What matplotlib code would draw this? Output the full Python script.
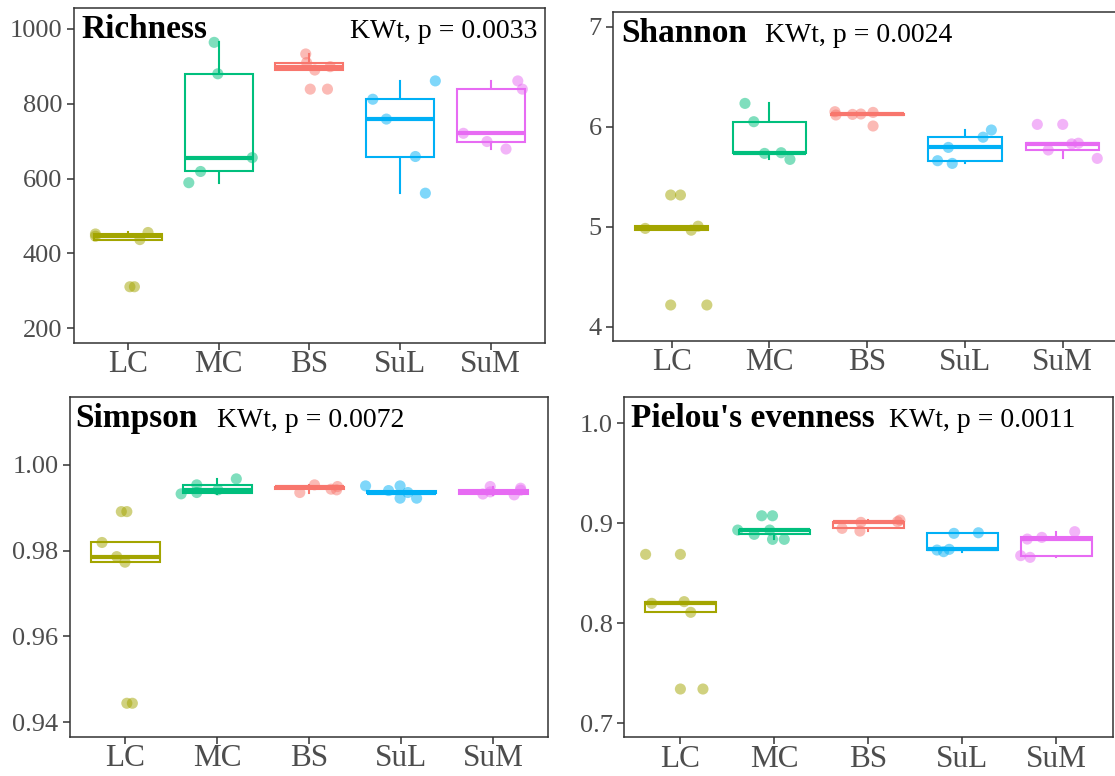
import matplotlib
matplotlib.use("Agg")
import matplotlib.pyplot as plt
import numpy as np

plt.rcParams['font.family'] = ['Liberation Serif', 'DejaVu Serif']

groups = ["LC", "MC", "BS", "SuL", "SuM"]
colours = ["#A3A500", "#00BF7D", "#F8766D", "#00B0F6", "#E76BF3"]

# values per group (LC, MC, BS, SuL, SuM); repeated values sit on top of each other
richness = [
    [311, 311, 437, 437, 446, 446, 452, 452, 456],
    [589, 619, 656, 880, 964],
    [839, 839, 890, 890, 899, 899, 910, 910, 933],
    [561, 659, 759, 812, 861],
    [679, 699, 721, 839, 861],
]
shannon = [
    [4.217, 4.217, 4.965, 4.965, 4.983, 5.005, 5.005, 5.317, 5.317],
    [5.673, 5.733, 5.74, 6.05, 6.233],
    [6.007, 6.117, 6.117, 6.123, 6.123, 6.127, 6.127, 6.143, 6.15],
    [5.633, 5.66, 5.793, 5.895, 5.967],
    [5.683, 5.767, 5.767, 5.828, 5.828, 5.835, 5.835, 6.023, 6.023],
]
simpson = [
    [0.9444, 0.9444, 0.9773, 0.9773, 0.9786, 0.9786, 0.9819, 0.9891, 0.9891],
    [0.99324, 0.99355, 0.99417, 0.99534, 0.99674],
    [0.99355, 0.99417, 0.99433, 0.99433, 0.99495, 0.99495, 0.99495, 0.99534, 0.99534],
    [0.99223, 0.99223, 0.99355, 0.99355, 0.99355, 0.99401, 0.99401, 0.9951, 0.9951],
    [0.9930, 0.9932, 0.9932, 0.9937, 0.9937, 0.9941, 0.9941, 0.99456, 0.99495],
]
pielou = [
    [0.7343, 0.7343, 0.811, 0.811, 0.820, 0.8217, 0.8217, 0.869, 0.869],
    [0.884, 0.884, 0.889, 0.889, 0.8933, 0.8933, 0.8933, 0.9076, 0.9076],
    [0.8923, 0.895, 0.895, 0.901, 0.901, 0.901, 0.9017, 0.9017, 0.9033],
    [0.8717, 0.8733, 0.874, 0.89, 0.8906],
    [0.866, 0.8677, 0.8843, 0.886, 0.8917],
]

# horizontal jitter of each point
richness_dx = [
    [0.02, 0.07, 0.13, 0.13, -0.36, -0.36, -0.36, -0.36, 0.22],
    [-0.33, -0.20, 0.37, -0.01, -0.05],
    [0.01, 0.20, 0.06, 0.06, 0.23, 0.23, -0.03, -0.03, -0.04],
    [0.28, 0.17, -0.15, -0.30, 0.39],
    [0.17, -0.04, -0.30, 0.35, 0.30],
]
shannon_dx = [
    [-0.01, 0.36, 0.20, 0.20, -0.27, 0.27, 0.27, -0.01, 0.09],
    [0.21, -0.05, 0.12, -0.16, -0.25],
    [0.06, -0.32, -0.32, -0.15, -0.15, -0.065, -0.065, 0.06, -0.33],
    [-0.13, -0.28, -0.17, 0.185, 0.27],
    [0.353, -0.148, -0.148, 0.092, 0.092, 0.16, 0.16, -0.26, 0.00],
]
simpson_dx = [
    [0.02, 0.08, 0.00, 0.00, -0.09, -0.09, -0.25, -0.04, 0.02],
    [-0.39, -0.22, 0.01, -0.22, 0.21],
    [-0.10, 0.30, 0.24, 0.24, 0.31, 0.31, 0.31, 0.06, 0.06],
    [-0.01, 0.17, 0.075, 0.075, 0.075, -0.135, -0.135, -0.385, -0.01],
    [0.23, -0.11, -0.11, -0.03, -0.03, 0.30, 0.30, 0.30, -0.03],
]
pielou_dx = [
    [0.00, 0.24, 0.11, 0.11, -0.305, 0.04, 0.04, -0.37, 0.00],
    [-0.02, 0.105, -0.215, -0.215, -0.39, -0.39, -0.05, -0.135, -0.02],
    [-0.09, -0.28, -0.28, -0.08, -0.08, -0.08, 0.31, 0.31, 0.335],
    [-0.20, -0.27, -0.14, -0.09, 0.17],
    [-0.28, -0.38, -0.31, -0.155, 0.195],
]

panels = [
    # title, data, jitter, ylim, yticks, labels, p text, axes box (px), p text x (px), right aligned
    ("Richness", richness, richness_dx, (161.5, 1055), [200, 400, 600, 800, 1000],
     ["200", "400", "600", "800", "1000"], "KWt, p = 0.0033",
     [73.7, 8.3, 545.0, 342.7], 7.8, True),
    ("Shannon", shannon, shannon_dx, (3.857, 7.15), [4, 5, 6, 7],
     ["4", "5", "6", "7"], "KWt, p = 0.0024",
     [613.0, 11.7, 1121.4, 341.0], 151.6, False),
    ("Simpson", simpson, simpson_dx, (0.9366, 1.0159), [0.94, 0.96, 0.98, 1.00],
     ["0.94", "0.96", "0.98", "1.00"], "KWt, p = 0.0072",
     [69.8, 396.7, 548.2, 736.7], 147.0, False),
    ("Pielou's evenness", pielou, pielou_dx, (0.686, 1.0267), [0.7, 0.8, 0.9, 1.0],
     ["0.7", "0.8", "0.9", "1.0"], "KWt, p = 0.0011",
     [624.0, 396.7, 1112.8, 737.3], 264.7, False),
]
title_x = [7.5, 8.0, 5.4, 7.0]

W, H = 1115, 776
fig = plt.figure(figsize=(W / 100, H / 100), dpi=100)
px = 0.72  # pixels -> points

dark = "#333333"
grey = "#4D4D4D"

for k, (title, data, jit, ylim, yt, ylab, ptext, box, pxx, right) in enumerate(panels):
    l, t, r, b = box
    ax = fig.add_axes([l / W, 1 - b / H, (r - l) / W, (b - t) / H])
    pos = np.arange(1, 6)
    bp = ax.boxplot(data, positions=pos, widths=0.75, showfliers=False,
                    patch_artist=True, whis=1.5, manage_ticks=False)
    for i, c in enumerate(colours):
        bp['boxes'][i].set(facecolor="white", edgecolor=c, linewidth=1.5, zorder=2)
        bp['medians'][i].set(color=c, linewidth=3.0, solid_capstyle='butt', zorder=3)
        for w in bp['whiskers'][2 * i:2 * i + 2]:
            w.set(color=c, linewidth=1.5, zorder=1)
        for cap in bp['caps'][2 * i:2 * i + 2]:
            cap.set(linewidth=0)
    for i, c in enumerate(colours):
        # identical points coincide, draw each spot once
        pts = list(dict.fromkeys(zip(jit[i], data[i])))
        xs = [pos[i] + d for d, v in pts]
        ys = [v for d, v in pts]
        ax.scatter(xs, ys, s=64, color=c, alpha=0.5, edgecolors='none', zorder=4)

    ax.set_xlim(0.4, 5.6)
    ax.set_ylim(*ylim)
    ax.set_xticks(pos, groups)
    ax.set_yticks(yt, ylab)
    ax.tick_params(axis='x', labelsize=22.5, colors=dark, labelcolor=grey,
                   length=4.7, width=1.1, pad=0.5)
    ax.tick_params(axis='y', labelsize=19, colors=dark, labelcolor=grey,
                   length=4.7, width=1.1, pad=3.5)
    for s in ax.spines.values():
        s.set_color(dark)
        s.set_linewidth(1.1)

    ax.annotate(title, xy=(0, 1), xycoords='axes fraction',
                xytext=(title_x[k] * px, -30 * px), textcoords='offset points',
                ha='left', va='baseline', fontsize=24, fontweight='bold', color='black')
    if right:
        ax.annotate(ptext, xy=(1, 1), xycoords='axes fraction',
                    xytext=(-pxx * px, -30 * px), textcoords='offset points',
                    ha='right', va='baseline', fontsize=20, color='black')
    else:
        ax.annotate(ptext, xy=(0, 1), xycoords='axes fraction',
                    xytext=(pxx * px, -30 * px), textcoords='offset points',
                    ha='left', va='baseline', fontsize=20, color='black')

fig.savefig("out.png", dpi=100)
